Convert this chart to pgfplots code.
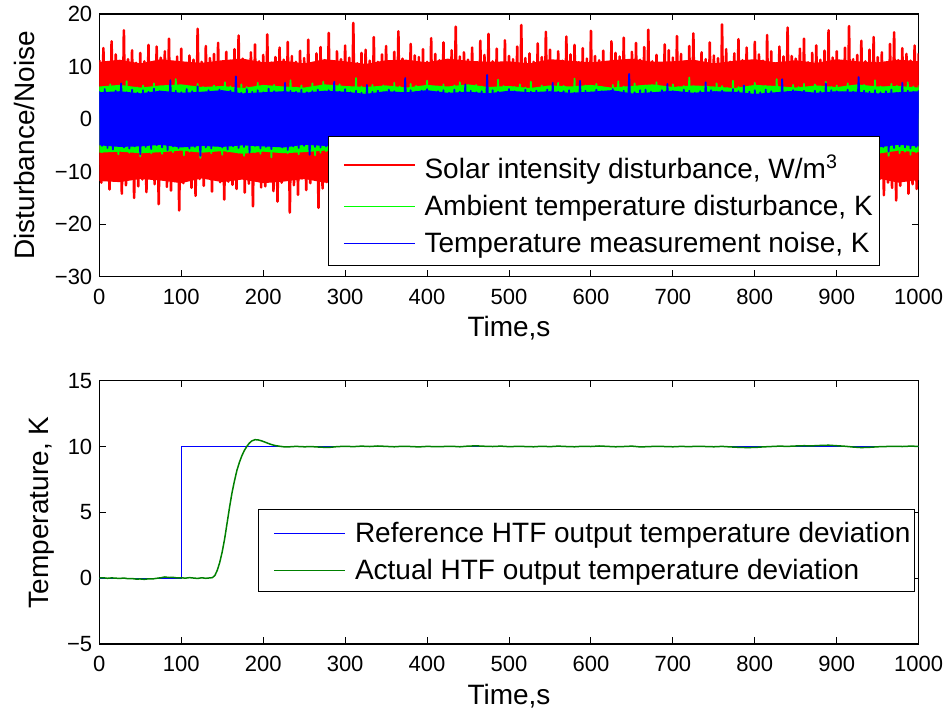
\documentclass[border=0pt]{standalone}
\usepackage{pgfplots}
\pgfplotsset{compat=1.18}
\usepackage{pgfplotstable}
\usepackage{fontspec}
\setmainfont{Liberation Sans}

\definecolor{mred}{rgb}{1,0,0}
\definecolor{mgreen}{rgb}{0,1,0}
\definecolor{mblue}{rgb}{0,0,1}
\definecolor{htfgreen}{rgb}{0,0.5,0}

% Solar intensity disturbance (sampled every 2.5 s)
\pgfplotstableread[row sep=\\]{
y\\
11.2\\ -12.1\\ 13.5\\ -11.0\\ 10.6\\ -13.4\\ 14.8\\ -11.7\\ 12.3\\ -10.9\\ 10.9\\ -14.2\\ 16.9\\ -12.6\\ 11.4\\ -11.3\\ 13.1\\ -15.0\\ 10.7\\ -12.8\\
12.6\\ -11.5\\ 11.0\\ -13.9\\ 14.1\\ -10.8\\ 10.5\\ -12.4\\ 13.8\\ -16.2\\ 11.7\\ -11.1\\ 12.9\\ -12.9\\ 15.3\\ -13.6\\ 10.8\\ -11.8\\ 11.9\\ -17.4\\
13.4\\ -12.2\\ 10.6\\ -10.9\\ 12.1\\ -13.1\\ 11.3\\ -14.6\\ 17.2\\ -11.4\\ 10.9\\ -12.7\\ 13.9\\ -11.2\\ 11.6\\ -13.8\\ 12.4\\ -10.7\\ 14.5\\ -12.0\\
10.8\\ -15.3\\ 12.8\\ -11.9\\ 11.1\\ -12.5\\ 13.3\\ -13.3\\ 15.9\\ -11.0\\ 11.5\\ -14.0\\ 10.6\\ -12.3\\ 12.7\\ -16.6\\ 14.2\\ -11.6\\ 11.0\\ -13.0\\
12.2\\ -12.8\\ 16.1\\ -10.8\\ 10.7\\ -13.7\\ 11.8\\ -15.7\\ 13.6\\ -12.1\\ 11.3\\ -11.4\\ 14.7\\ -17.8\\ 12.0\\ -12.6\\ 10.9\\ -14.4\\ 13.0\\ -11.3\\
11.6\\ -13.5\\ 15.1\\ -12.2\\ 10.5\\ -11.0\\ 12.5\\ -16.9\\ 13.7\\ -13.2\\ 11.2\\ -12.0\\ 16.4\\ -11.8\\ 10.8\\ -14.8\\ 12.9\\ -12.4\\ 11.4\\ -15.2\\
14.0\\ -11.1\\ 11.7\\ -13.6\\ 18.3\\ -12.7\\ 10.6\\ -11.5\\ 12.6\\ -14.1\\ 13.2\\ -16.3\\ 11.1\\ -12.9\\ 15.6\\ -11.2\\ 10.9\\ -13.4\\ 12.3\\ -12.2\\
13.9\\ -14.5\\ 11.0\\ -11.7\\ 12.8\\ -13.0\\ 16.7\\ -12.5\\ 11.5\\ -15.5\\ 10.7\\ -11.9\\ 14.3\\ -13.8\\ 12.1\\ -12.3\\ 11.8\\ -17.1\\ 13.3\\ -11.4\\
10.9\\ -12.7\\ 15.4\\ -13.3\\ 12.4\\ -11.6\\ 11.2\\ -14.9\\ 14.6\\ -12.0\\ 10.6\\ -13.1\\ 13.1\\ -11.0\\ 17.6\\ -15.8\\ 11.9\\ -12.6\\ 12.7\\ -13.7\\
11.3\\ -11.8\\ 13.6\\ -16.1\\ 10.8\\ -12.4\\ 14.9\\ -13.5\\ 12.2\\ -11.3\\ 16.2\\ -14.3\\ 11.0\\ -12.1\\ 13.4\\ -11.5\\ 10.7\\ -15.1\\ 15.0\\ -12.8\\
12.0\\ -13.9\\ 11.4\\ -11.2\\ 13.8\\ -12.9\\ 17.9\\ -14.7\\ 11.6\\ -12.2\\ 12.5\\ -11.6\\ 10.9\\ -16.7\\ 14.4\\ -13.0\\ 11.8\\ -12.5\\ 16.6\\ -11.1\\
13.2\\ -14.0\\ 10.6\\ -12.3\\ 12.9\\ -13.6\\ 11.1\\ -11.4\\ 15.7\\ -15.4\\ 12.3\\ -12.0\\ 14.1\\ -13.3\\ 10.8\\ -11.7\\ 13.5\\ -16.4\\ 11.5\\ -12.7\\
16.8\\ -11.9\\ 12.0\\ -14.2\\ 11.2\\ -12.6\\ 13.0\\ -13.1\\ 10.7\\ -17.3\\ 14.8\\ -11.0\\ 12.6\\ -12.8\\ 11.9\\ -15.0\\ 15.5\\ -13.4\\ 10.9\\ -11.8\\
12.8\\ -13.2\\ 14.5\\ -12.1\\ 11.3\\ -11.3\\ 13.7\\ -14.6\\ 17.0\\ -12.4\\ 11.0\\ -13.9\\ 12.2\\ -16.0\\ 10.6\\ -11.5\\ 14.2\\ -12.9\\ 13.1\\ -13.5\\
11.7\\ -12.0\\ 15.8\\ -11.8\\ 12.4\\ -15.6\\ 11.0\\ -13.0\\ 13.9\\ -12.2\\ 16.3\\ -11.4\\ 10.8\\ -14.1\\ 12.7\\ -12.7\\ 11.4\\ -17.0\\ 14.6\\ -13.3\\
12.1\\ -11.1\\ 11.6\\ -13.7\\ 18.0\\ -12.5\\ 13.3\\ -11.9\\ 10.9\\ -14.4\\ 12.5\\ -13.1\\ 15.2\\ -12.3\\ 11.2\\ -15.9\\ 13.6\\ -11.6\\ 10.7\\ -12.9\\
14.7\\ -13.8\\ 12.3\\ -12.0\\ 11.1\\ -16.5\\ 16.0\\ -11.3\\ 12.9\\ -13.4\\ 10.6\\ -12.6\\ 13.8\\ -14.8\\ 11.9\\ -11.8\\ 17.4\\ -13.0\\ 12.0\\ -15.3\\
11.5\\ -12.2\\ 13.4\\ -11.5\\ 15.3\\ -13.6\\ 10.8\\ -17.6\\ 12.6\\ -12.4\\ 14.0\\ -11.2\\ 11.3\\ -14.0\\ 13.0\\ -13.2\\ 16.9\\ -12.8\\ 11.7\\ -11.9\\
12.9\\ -14.3\\ 10.9\\ -12.9\\ 13.6\\ -11.0\\ 17.7\\ -15.2\\ 11.4\\ -12.3\\ 12.2\\ -13.5\\ 14.9\\ -11.7\\ 11.0\\ -16.8\\ 13.2\\ -12.6\\ 15.6\\ -13.9\\
11.8\\ -11.4\\ 12.7\\ -14.5\\ 10.7\\ -12.1\\ 14.3\\ -13.1\\ 16.5\\ -15.5\\ 11.2\\ -12.7\\ 13.5\\ -11.6\\ 12.4\\ -14.2\\ 11.1\\ -12.4\\ 14.0\\ -13.3\\
12.5\\
}\redtab

% Ambient temperature disturbance (sampled every 10/3 s)
\pgfplotstableread[row sep=\\]{
y\\
6.1\\ -6.3\\ 5.8\\ -5.9\\ 6.6\\ -6.1\\ 5.9\\ -6.7\\ 6.3\\ -6.0\\ 7.2\\ -6.4\\ 5.7\\ -5.8\\ 6.0\\ -7.1\\ 6.4\\ -6.2\\ 5.9\\ -6.5\\
6.8\\ -5.9\\ 6.2\\ -6.6\\ 5.8\\ -6.0\\ 6.5\\ -6.3\\ 7.6\\ -5.8\\ 6.0\\ -6.9\\ 6.3\\ -6.2\\ 5.9\\ -6.0\\ 6.7\\ -7.4\\ 6.1\\ -6.1\\
5.8\\ -6.5\\ 6.4\\ -5.9\\ 6.0\\ -6.8\\ 7.0\\ -6.2\\ 6.2\\ -6.0\\ 5.9\\ -6.4\\ 6.6\\ -7.0\\ 6.1\\ -5.9\\ 5.8\\ -6.3\\ 6.9\\ -6.6\\
6.3\\ -6.0\\ 6.0\\ -7.3\\ 6.5\\ -6.2\\ 5.7\\ -6.1\\ 6.2\\ -6.5\\ 7.4\\ -5.9\\ 6.0\\ -6.7\\ 6.4\\ -6.0\\ 5.9\\ -6.2\\ 6.8\\ -6.9\\
6.1\\ -6.4\\ 7.1\\ -6.1\\ 5.8\\ -5.8\\ 6.3\\ -7.0\\ 6.6\\ -6.3\\ 6.0\\ -6.0\\ 5.9\\ -6.6\\ 7.8\\ -6.2\\ 6.2\\ -6.8\\ 6.0\\ -5.9\\
6.5\\ -7.2\\ 6.1\\ -6.3\\ 6.4\\ -6.1\\ 5.8\\ -6.5\\ 6.9\\ -6.0\\ 6.2\\ -7.5\\ 6.0\\ -6.2\\ 6.7\\ -5.9\\ 6.3\\ -6.4\\ 5.9\\ -6.7\\
7.3\\ -6.1\\ 6.0\\ -6.0\\ 6.2\\ -6.9\\ 6.6\\ -6.3\\ 5.8\\ -6.2\\ 6.4\\ -6.0\\ 7.0\\ -7.1\\ 6.1\\ -6.5\\ 5.9\\ -6.1\\ 6.5\\ -6.3\\
6.2\\ -6.6\\ 6.8\\ -5.9\\ 6.0\\ -6.4\\ 7.5\\ -6.2\\ 6.3\\ -7.0\\ 5.9\\ -6.1\\ 6.1\\ -6.5\\ 6.6\\ -6.0\\ 6.0\\ -6.8\\ 7.1\\ -6.2\\
5.8\\ -6.3\\ 6.4\\ -7.3\\ 6.2\\ -6.1\\ 6.0\\ -6.0\\ 6.9\\ -6.6\\ 6.3\\ -6.2\\ 5.9\\ -6.9\\ 7.7\\ -6.3\\ 6.1\\ -6.0\\ 6.4\\ -7.2\\
6.0\\ -6.4\\ 6.7\\ -6.1\\ 6.1\\ -6.7\\ 5.8\\ -6.2\\ 6.5\\ -6.0\\ 7.2\\ -6.5\\ 6.2\\ -7.4\\ 6.0\\ -6.1\\ 6.8\\ -6.3\\ 6.3\\ -6.0\\
6.4\\ -6.9\\ 6.0\\ -6.2\\ 7.0\\ -6.0\\ 6.2\\ -6.6\\ 5.9\\ -7.1\\ 6.6\\ -6.3\\ 6.1\\ -6.0\\ 6.3\\ -6.8\\ 7.9\\ -6.2\\ 6.0\\ -6.4\\
6.2\\ -6.1\\ 6.5\\ -7.0\\ 6.0\\ -6.3\\ 6.8\\ -6.0\\ 6.3\\ -6.5\\ 5.9\\ -6.2\\ 7.3\\ -6.7\\ 6.1\\ -6.1\\ 6.4\\ -7.3\\ 6.2\\ -6.0\\
6.9\\ -6.3\\ 6.1\\ -6.1\\ 6.3\\ -6.9\\ 6.0\\ -6.4\\ 7.6\\ -6.0\\ 6.2\\ -6.6\\ 5.8\\ -7.2\\ 6.5\\ -6.2\\ 6.1\\ -6.1\\ 6.7\\ -6.5\\
6.0\\ -7.0\\ 6.6\\ -6.3\\ 6.2\\ -6.0\\ 7.1\\ -6.7\\ 6.1\\ -6.2\\ 6.4\\ -6.1\\ 6.0\\ -6.9\\ 6.8\\ -6.4\\ 6.3\\ -7.5\\ 6.1\\ -6.0\\
6.5\\ -6.2\\ 6.0\\ -6.6\\ 7.4\\ -6.1\\ 6.2\\ -6.3\\ 6.1\\ -7.0\\ 6.7\\ -6.0\\ 6.3\\ -6.5\\ 6.0\\ -6.2\\ 7.0\\ -6.8\\ 6.2\\ -6.3\\
6.4\\
}\greentab

% Temperature measurement noise (sampled every 10/3 s)
\pgfplotstableread[row sep=\\]{
y\\
5.3\\ -5.1\\ 5.7\\ -5.5\\ 4.9\\ -5.8\\ 5.4\\ -5.0\\ 6.8\\ -5.4\\ 5.1\\ -5.6\\ 5.6\\ -5.2\\ 5.0\\ -6.7\\ 5.5\\ -5.3\\ 5.2\\ -5.7\\
5.8\\ -5.0\\ 5.3\\ -5.4\\ 5.0\\ -5.9\\ 7.4\\ -5.2\\ 5.4\\ -5.5\\ 5.1\\ -5.1\\ 5.7\\ -5.6\\ 5.3\\ -5.3\\ 6.2\\ -7.0\\ 5.0\\ -5.4\\
5.5\\ -5.6\\ 5.2\\ -5.0\\ 5.6\\ -5.4\\ 5.1\\ -5.8\\ 5.4\\ -5.2\\ 8.1\\ -5.5\\ 5.0\\ -5.3\\ 5.7\\ -6.4\\ 5.2\\ -5.1\\ 5.5\\ -5.6\\
5.1\\ -5.3\\ 5.8\\ -5.7\\ 5.3\\ -5.0\\ 5.0\\ -5.4\\ 6.9\\ -5.9\\ 5.4\\ -5.2\\ 5.2\\ -5.5\\ 5.6\\ -5.1\\ 5.1\\ -6.8\\ 5.3\\ -5.3\\
5.6\\ -5.4\\ 5.0\\ -5.2\\ 5.5\\ -5.6\\ 7.1\\ -5.0\\ 5.2\\ -5.5\\ 5.7\\ -5.8\\ 5.1\\ -5.3\\ 5.4\\ -5.4\\ 5.0\\ -5.1\\ 6.5\\ -5.7\\
5.2\\ -5.6\\ 5.4\\ -7.2\\ 5.1\\ -5.3\\ 5.6\\ -5.5\\ 5.3\\ -5.2\\ 5.0\\ -5.4\\ 7.8\\ -5.6\\ 5.5\\ -5.0\\ 5.2\\ -5.8\\ 5.4\\ -5.3\\
5.7\\ -5.1\\ 5.1\\ -5.4\\ 5.3\\ -5.9\\ 5.5\\ -5.2\\ 5.0\\ -6.6\\ 5.6\\ -5.5\\ 5.2\\ -5.1\\ 6.6\\ -5.4\\ 5.4\\ -5.6\\ 5.1\\ -5.2\\
5.3\\ -5.7\\ 8.4\\ -5.3\\ 5.5\\ -5.0\\ 5.2\\ -5.5\\ 5.0\\ -5.3\\ 5.7\\ -5.8\\ 5.3\\ -5.4\\ 5.1\\ -7.1\\ 5.6\\ -5.2\\ 5.2\\ -5.5\\
5.4\\ -5.3\\ 5.0\\ -5.6\\ 5.6\\ -5.4\\ 6.9\\ -5.1\\ 5.2\\ -5.7\\ 5.3\\ -5.2\\ 5.5\\ -5.5\\ 5.0\\ -5.3\\ 7.3\\ -5.6\\ 5.4\\ -5.0\\
5.1\\ -5.8\\ 5.6\\ -5.2\\ 5.3\\ -5.4\\ 5.0\\ -6.5\\ 5.7\\ -5.3\\ 5.2\\ -5.5\\ 5.4\\ -5.1\\ 8.6\\ -5.7\\ 5.1\\ -5.4\\ 5.5\\ -5.2\\
5.6\\ -5.4\\ 5.2\\ -5.6\\ 5.0\\ -5.0\\ 5.5\\ -5.8\\ 6.7\\ -5.4\\ 5.3\\ -5.3\\ 5.1\\ -6.9\\ 5.6\\ -5.2\\ 5.4\\ -5.5\\ 5.0\\ -5.6\\
5.3\\ -5.1\\ 7.0\\ -5.4\\ 5.5\\ -5.7\\ 5.2\\ -5.3\\ 5.4\\ -5.2\\ 5.0\\ -5.6\\ 5.7\\ -5.4\\ 5.3\\ -5.0\\ 6.4\\ -7.3\\ 5.2\\ -5.5\\
5.5\\ -5.3\\ 5.1\\ -5.5\\ 5.6\\ -5.2\\ 5.3\\ -5.9\\ 5.0\\ -5.4\\ 7.6\\ -5.1\\ 5.2\\ -5.6\\ 5.5\\ -5.3\\ 5.1\\ -5.4\\ 5.4\\ -6.6\\
5.0\\ -5.6\\ 5.4\\ -5.2\\ 5.2\\ -5.5\\ 6.8\\ -5.3\\ 5.5\\ -5.0\\ 5.3\\ -5.7\\ 5.1\\ -5.4\\ 5.6\\ -5.6\\ 5.2\\ -5.2\\ 8.0\\ -5.5\\
5.4\\ -5.4\\ 5.2\\ -5.8\\ 5.5\\ -5.1\\ 5.1\\ -5.3\\ 5.3\\ -6.2\\ 5.6\\ -5.5\\ 5.0\\ -5.2\\ 6.9\\ -5.4\\ 5.4\\ -5.6\\ 5.2\\ -5.3\\
5.5\\
}\bluetab

% Dense cores of the three signals: upper envelope at x = 0,25,...,1000,
% then lower envelope back from x = 1000 to 0 (every 25 s)
\pgfplotstableread[row sep=\\]{
y\\
10.9\\ 11.3\\ 10.6\\ 11.4\\ 11.0\\ 10.7\\ 11.2\\ 11.5\\ 10.8\\ 11.1\\ 10.6\\ 11.4\\ 11.0\\ 10.5\\ 11.2\\ 11.3\\ 10.8\\ 11.5\\ 11.1\\ 10.9\\
11.0\\ 10.6\\ 11.4\\ 11.1\\ 10.8\\ 11.2\\ 11.5\\ 10.9\\ 11.0\\ 11.3\\ 10.6\\ 11.1\\ 11.4\\ 10.8\\ 11.2\\ 10.7\\ 11.4\\ 11.0\\ 10.8\\ 11.3\\ 11.0\\
-11.6\\ -12.1\\ -11.3\\ -12.3\\ -11.8\\ -11.5\\ -12.0\\ -12.4\\ -11.6\\ -11.9\\ -11.4\\ -12.2\\ -11.8\\ -11.3\\ -11.7\\ -12.1\\ -11.5\\ -12.3\\ -11.9\\ -11.6\\
-12.0\\ -11.3\\ -12.2\\ -11.8\\ -11.5\\ -12.0\\ -12.4\\ -11.6\\ -11.8\\ -12.1\\ -11.4\\ -11.9\\ -12.2\\ -11.5\\ -12.0\\ -11.3\\ -12.2\\ -11.7\\ -11.4\\ -12.0\\ -11.8\\
}\redcore
\pgfplotstableread[row sep=\\]{
y\\
6.2\\ 6.5\\ 6.0\\ 6.4\\ 6.6\\ 6.1\\ 6.3\\ 5.9\\ 6.5\\ 6.2\\ 6.0\\ 6.6\\ 6.3\\ 6.1\\ 6.4\\ 6.0\\ 6.5\\ 6.2\\ 6.6\\ 6.1\\
6.3\\ 5.9\\ 6.4\\ 6.2\\ 6.5\\ 6.0\\ 6.3\\ 6.6\\ 6.1\\ 6.4\\ 6.2\\ 5.9\\ 6.5\\ 6.3\\ 6.0\\ 6.4\\ 6.1\\ 6.6\\ 6.2\\ 6.3\\ 6.0\\
-6.3\\ -6.0\\ -6.6\\ -6.2\\ -6.4\\ -6.1\\ -6.7\\ -6.3\\ -6.0\\ -6.5\\ -6.2\\ -6.6\\ -6.1\\ -6.4\\ -6.0\\ -6.3\\ -6.7\\ -6.2\\ -6.5\\ -6.1\\
-6.4\\ -6.0\\ -6.6\\ -6.3\\ -6.2\\ -6.5\\ -6.1\\ -6.4\\ -6.7\\ -6.0\\ -6.3\\ -6.5\\ -6.2\\ -6.6\\ -6.1\\ -6.4\\ -6.0\\ -6.3\\ -6.5\\ -6.2\\ -6.4\\
}\greencore
\pgfplotstableread[row sep=\\]{
y\\
5.1\\ 5.3\\ 4.9\\ 5.4\\ 5.0\\ 5.2\\ 5.5\\ 4.9\\ 5.1\\ 5.3\\ 5.0\\ 5.4\\ 5.2\\ 4.8\\ 5.3\\ 5.1\\ 5.5\\ 5.0\\ 5.2\\ 4.9\\
5.4\\ 5.1\\ 5.3\\ 5.0\\ 5.2\\ 5.5\\ 4.9\\ 5.1\\ 5.4\\ 5.0\\ 5.3\\ 5.2\\ 4.8\\ 5.1\\ 5.4\\ 5.0\\ 5.3\\ 5.2\\ 4.9\\ 5.1\\ 5.3\\
-5.2\\ -4.9\\ -5.4\\ -5.1\\ -5.3\\ -5.0\\ -5.5\\ -5.2\\ -4.9\\ -5.3\\ -5.1\\ -5.4\\ -5.0\\ -5.2\\ -5.5\\ -4.9\\ -5.3\\ -5.1\\ -5.4\\ -5.0\\
-5.2\\ -5.3\\ -4.9\\ -5.4\\ -5.1\\ -5.2\\ -5.5\\ -5.0\\ -5.3\\ -5.1\\ -4.9\\ -5.4\\ -5.2\\ -5.0\\ -5.3\\ -5.1\\ -5.4\\ -4.9\\ -5.2\\ -5.3\\ -5.0\\
}\bluecore

\begin{document}
\begin{tikzpicture}
\path[use as bounding box] (0pt,0pt) rectangle (474pt,355.5pt);

\pgfplotsset{
  mystyle/.style={
    scale only axis, width=409.7pt,
    xmin=0, xmax=1000,
    xtick={0,100,...,1000},
    xticklabels={0,100,200,300,400,500,600,700,800,900,1000},
    tick label style={font=\fontsize{11}{13}\selectfont},
    xticklabel style={yshift=-2.6pt},
    label style={font=\fontsize{14}{16}\selectfont},
    major tick length=3.25pt,
    axis line style={line width=0.6pt},
    tick style={line width=0.5pt, black},
    legend cell align=left,
  },
}

% ---------- top axis ----------
\begin{axis}[mystyle,
  at={(49.65pt,217.15pt)}, anchor=south west, height=131.35pt,
  ymin=-30, ymax=20,
  ytick={-30,-20,-10,0,10,20},
  yticklabels={−30,−20,−10,0,10,20},
  xlabel={Time,s}, ylabel={Disturbance/Noise},
  xlabel style={at={(axis description cs:0.5,-0.2295)}, anchor=base},
  ylabel style={at={(axis description cs:-0.0785,0.5)}, anchor=base},
  legend style={at={(axis description cs:0.2791,0.5356)}, anchor=north west,
    draw=black, line width=0.5pt, fill=white,
    inner xsep=3.15pt, inner ysep=3pt, column sep=4.5pt, row sep=3.65pt,
    font=\fontsize{14}{16}\selectfont,
    nodes={inner sep=0pt, text height=11pt, text depth=3.5pt},
    cells={anchor=base west}},
]
\addplot[fill=mred, draw=none, forget plot]
  table[x expr={ifthenelse(\coordindex<41,25*\coordindex,2025-25*\coordindex)}, y=y] {\redcore};
\addplot[mred, line width=1.3pt, line join=round,
  legend image code/.code={\path (0pt,0pt) (0pt,17.35pt); \draw[mred, line width=0.65pt] (3.85pt,6.7pt) -- (39.35pt,6.7pt);}]
  table[x expr=\coordindex*2.5, y=y] {\redtab};
\addlegendentry{Solar intensity disturbance, W/m\textsuperscript{3}}

\addplot[fill=mgreen, draw=none, forget plot]
  table[x expr={ifthenelse(\coordindex<41,25*\coordindex,2025-25*\coordindex)}, y=y] {\greencore};
\addplot[mgreen, line width=0.9pt, line join=round,
  legend image code/.code={\path (0pt,0pt) (0pt,11pt); \draw[mgreen, line width=0.65pt] (3.85pt,4.7pt) -- (39.35pt,4.7pt);}]
  table[x expr=\coordindex*10/3, y=y] {\greentab};
\addlegendentry{Ambient temperature disturbance, K}

\addplot[fill=mblue, draw=none, forget plot]
  table[x expr={ifthenelse(\coordindex<41,25*\coordindex,2025-25*\coordindex)}, y=y] {\bluecore};
\addplot[mblue, line width=0.9pt, line join=round,
  legend image code/.code={\path (0pt,0pt) (0pt,11pt); \draw[mblue, line width=0.75pt] (3.85pt,4.7pt) -- (39.35pt,4.7pt);}]
  table[x expr=\coordindex*10/3, y=y] {\bluetab};
\addlegendentry{Temperature measurement noise, K}
\end{axis}

% ---------- bottom axis ----------
\begin{axis}[mystyle,
  at={(49.65pt,33.5pt)}, anchor=south west, height=131.65pt,
  ymin=-5, ymax=15,
  ytick={-5,0,5,10,15},
  yticklabels={−5,0,5,10,15},
  xlabel={Time,s}, ylabel={Temperature, K},
  xlabel style={at={(axis description cs:0.5,-0.2295)}, anchor=base},
  ylabel style={at={(axis description cs:-0.0622,0.5)}, anchor=base},
  legend style={at={(axis description cs:0.1937,0.5122)}, anchor=north west,
    draw=black, line width=0.5pt, fill=white,
    inner xsep=2.15pt, inner ysep=2.85pt, column sep=4.5pt, row sep=3.3pt,
    font=\fontsize{14}{16}\selectfont,
    nodes={inner sep=0pt, text height=11pt, text depth=3.5pt},
    cells={anchor=base west}},
]
\addplot[mblue, line width=0.5pt,
  legend image code/.code={\path (0pt,0pt) (0pt,13.5pt); \draw[mblue, line width=0.75pt] (5.35pt,4.7pt) -- (40.85pt,4.7pt);}]
  coordinates {(0,0) (100,0) (100,10) (1000,10)};
\addlegendentry{Reference HTF output temperature deviation}

\addplot[htfgreen, line width=0.75pt,
  legend image code/.code={\path (0pt,0pt) (0pt,11pt); \draw[htfgreen, line width=0.65pt] (5.35pt,4.5pt) -- (40.85pt,4.5pt);}]
  coordinates {
  (0,0.01) (5,0.03) (10,-0.01) (15,0.02) (20,0.0) (25,-0.02) (30,0.01) (35,-0.04) (40,-0.03) (45,-0.07)
  (50,-0.06) (55,-0.09) (60,-0.05) (65,-0.06) (70,-0.01) (75,0.03) (80,0.09) (85,0.05) (90,0.06) (95,0.02)
  (100,0.03) (105,0.0) (110,0.04) (115,0.01) (120,-0.02) (125,0.03) (130,-0.01) (135,0.02) (138,0.04)
  (141,0.2) (144,0.6) (147,1.2) (150,2.0) (153,3.0) (156,4.2) (159,5.4) (162,6.5) (165,7.4) (168,8.2)
  (171,8.8) (174,9.3) (177,9.7) (180,10.0) (183,10.25) (186,10.42) (190,10.52) (194,10.5) (198,10.43)
  (202,10.34) (206,10.24) (210,10.15) (215,10.07) (220,10.02) (225,9.98) (230,9.97) (240,10.01) (250,9.98)
  (260,9.99) (270,9.95) (280,9.93) (290,9.99) (300,10.02) (310,9.99) (320,10.03) (330,10.0) (340,10.04)
  (350,10.01) (360,9.98) (370,10.02) (380,10.0) (390,9.97) (400,10.01) (410,9.99) (420,10.0) (430,10.02)
  (440,9.98) (450,10.03) (460,10.05) (470,10.02) (480,10.0) (490,10.03) (500,9.99) (510,10.01) (520,10.0)
  (530,9.98) (540,10.02) (550,9.99) (560,10.03) (570,10.0) (580,9.98) (590,10.02) (600,10.0) (610,10.04)
  (620,10.01) (630,9.98) (640,10.0) (650,10.03) (660,9.97) (670,9.99) (680,10.02) (690,10.0) (700,9.98)
  (710,10.01) (720,9.99) (730,10.02) (740,10.0) (750,9.98) (760,10.01) (770,9.97) (780,9.94) (790,9.92)
  (800,9.93) (810,9.97) (820,10.0) (830,10.03) (840,10.01) (850,10.04) (860,10.06) (870,10.05) (880,10.08)
  (890,10.1) (900,10.06) (910,10.02) (920,9.96) (930,9.92) (940,9.94) (950,9.98) (960,10.0) (970,10.02)
  (980,10.0) (990,10.03) (1000,10.01)};
\addlegendentry{Actual HTF output temperature deviation}
\end{axis}
\end{tikzpicture}
\end{document}
